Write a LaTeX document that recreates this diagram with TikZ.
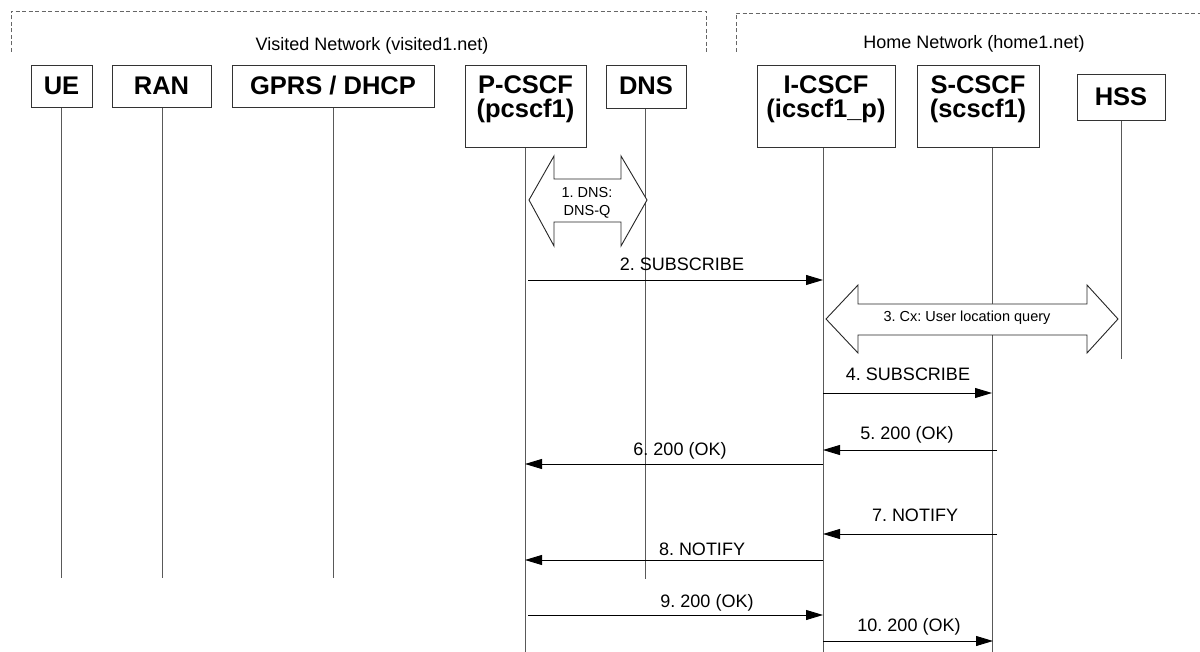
\documentclass[tikz,border=0pt]{standalone}
\usepackage{fontspec}
\setmainfont{Liberation Sans}
\usetikzlibrary{arrows.meta}
\frenchspacing
\begin{document}
\begin{tikzpicture}[x=1pt,y=-1pt,
  box/.style={draw=black!80, line width=0.9pt, inner sep=0pt, anchor=north west},
  boxlbl/.style={font=\fontsize{25.5}{28}\selectfont\bfseries, inner sep=0pt, anchor=base},
  life/.style={draw=black!65, line width=1pt},
  msg/.style={draw=black, line width=0.9pt, -{Triangle[length=17pt,width=10pt]}},
  mlbl/.style={font=\fontsize{18}{20}\selectfont, inner sep=0pt, anchor=base},
  blk/.style={draw=black!85, fill=white, line width=0.9pt, line join=miter},
  blbl/.style={font=\fontsize{14.5}{17}\selectfont, inner sep=0pt, anchor=base},
  net/.style={draw=black!60, line width=0.8pt, dash pattern=on 4pt off 2.5pt},
  netlbl/.style={font=\fontsize{18}{20}\selectfont, inner sep=0pt}]
\useasboundingbox (0,0) rectangle (1200,652);

% network frames
\draw[net] (11,52) -- (11,11) -- (706,11) -- (706,52);
\draw[net] (736,52) -- (736,13) -- (1200,13);
\node[netlbl] (vnet) at (372,46) {Visited Network (visited1.net)};
\node[netlbl] (hnet) at (974,44) {Home Network (home1.net)};

% boxes
\node[box, minimum width=61pt,  minimum height=42pt] (ue)    at (31,65) {};
\node[box, minimum width=99pt,  minimum height=42pt] (ran)   at (112,65) {};
\node[box, minimum width=202pt, minimum height=42pt] (gprs)  at (232,65) {};
\node[box, minimum width=121pt, minimum height=82pt] (pcscf) at (465,65) {};
\node[box, minimum width=80pt,  minimum height=43pt] (dns)   at (606,65) {};
\node[box, minimum width=138pt, minimum height=82pt] (icscf) at (757,65) {};
\node[box, minimum width=122pt, minimum height=82pt] (scscf) at (917,65) {};
\node[box, minimum width=88pt,  minimum height=46pt] (hss)   at (1077,74) {};

\node[boxlbl] (uet)    at (61.5,95)  {UE};
\node[boxlbl] (rant)   at (161.5,95) {RAN};
\node[boxlbl] (gprst)  at (333,95)   {GPRS / DHCP};
\node[boxlbl] (pcscft) at (525.5,94) {P-CSCF};
\node[boxlbl] (pcscfu) at (525.5,118) {(pcscf1)};
\node[boxlbl] (dnst)   at (646,95)   {DNS};
\node[boxlbl] (icscft) at (826,94)   {I-CSCF};
\node[boxlbl] (icscfu) at (826,118)  {(icscf1\_p)};
\node[boxlbl] (scscft) at (978,94)   {S-CSCF};
\node[boxlbl] (scscfu) at (978,118)  {(scscf1)};
\node[boxlbl] (hsst)   at (1121,106) {HSS};

% lifeline ends
\coordinate (ueL) at (61,578);
\coordinate (ranL) at (162,578);
\coordinate (gprsL) at (333,578);
\coordinate (pL) at (525,652);
\coordinate (dL) at (645,579);
\coordinate (iL) at (823,652);
\coordinate (sL) at (992,652);
\coordinate (hL) at (1121,359);

\draw[life] (ue.south -| ueL) -- (ueL);
\draw[life] (ran.south -| ranL) -- (ranL);
\draw[life] (gprs.south -| gprsL) -- (gprsL);
\draw[life] (pcscf.south -| pL) -- (pL);
\draw[life] (dns.south -| dL) -- (dL);
\draw[life] (icscf.south -| iL) -- (iL);
\draw[life] (scscf.south -| sL) -- (sL);
\draw[life] (hss.south -| hL) -- (hL);

% block arrow 1
\draw[blk] (529,200) -- (554,156) -- (554,179) -- (621,179) -- (621,156) -- (647,200)
  -- (621,246) -- (621,222) -- (554,222) -- (554,246) -- cycle;
\node[blbl] (b1a) at (587,198) {1. DNS:};
\node[blbl] (b1b) at (587,216) {DNS-Q};

% block arrow 3
\draw[blk] (826,319) -- (858,285) -- (858,304) -- (1087,304) -- (1087,285) -- (1118,319)
  -- (1087,353) -- (1087,335) -- (858,335) -- (858,353) -- cycle;
\node[blbl] (b3) at (967,322) {3. Cx: User location query};

% messages
\coordinate (m2) at (0,280);
\coordinate (m4) at (0,393);
\coordinate (m5) at (0,450);
\coordinate (m6) at (0,464);
\coordinate (m7) at (0,534);
\coordinate (m8) at (0,560);
\coordinate (m9) at (0,615);
\coordinate (m10) at (0,641);

\draw[msg] ([xshift=3pt]pL |- m2) -- (iL |- m2);
\draw[msg] (iL |- m4) -- (sL |- m4);
\draw[msg] ([xshift=5pt]sL |- m5) -- (iL |- m5);
\draw[msg] (iL |- m6) -- (pL |- m6);
\draw[msg] ([xshift=5pt]sL |- m7) -- (iL |- m7);
\draw[msg] (iL |- m8) -- (pL |- m8);
\draw[msg] ([xshift=3pt]pL |- m9) -- (iL |- m9);
\draw[msg] (iL |- m10) -- ([xshift=1pt]sL |- m10);

\node[mlbl] (l2) at (682,270.5) {2. SUBSCRIBE};
\node[mlbl] (l4) at (908,380.5) {4. SUBSCRIBE};
\node[mlbl] (l5) at (907,439.5) {5. 200 (OK)};
\node[mlbl] (l6) at (680,455.5) {6. 200 (OK)};
\node[mlbl] (l7) at (915,521.5) {7. NOTIFY};
\node[mlbl] (l8) at (702,555.5) {8. NOTIFY};
\node[mlbl] (l9) at (707,607.5) {9. 200 (OK)};
\node[mlbl] (l10) at (909,631.5) {10. 200 (OK)};
\end{tikzpicture}
\end{document}
